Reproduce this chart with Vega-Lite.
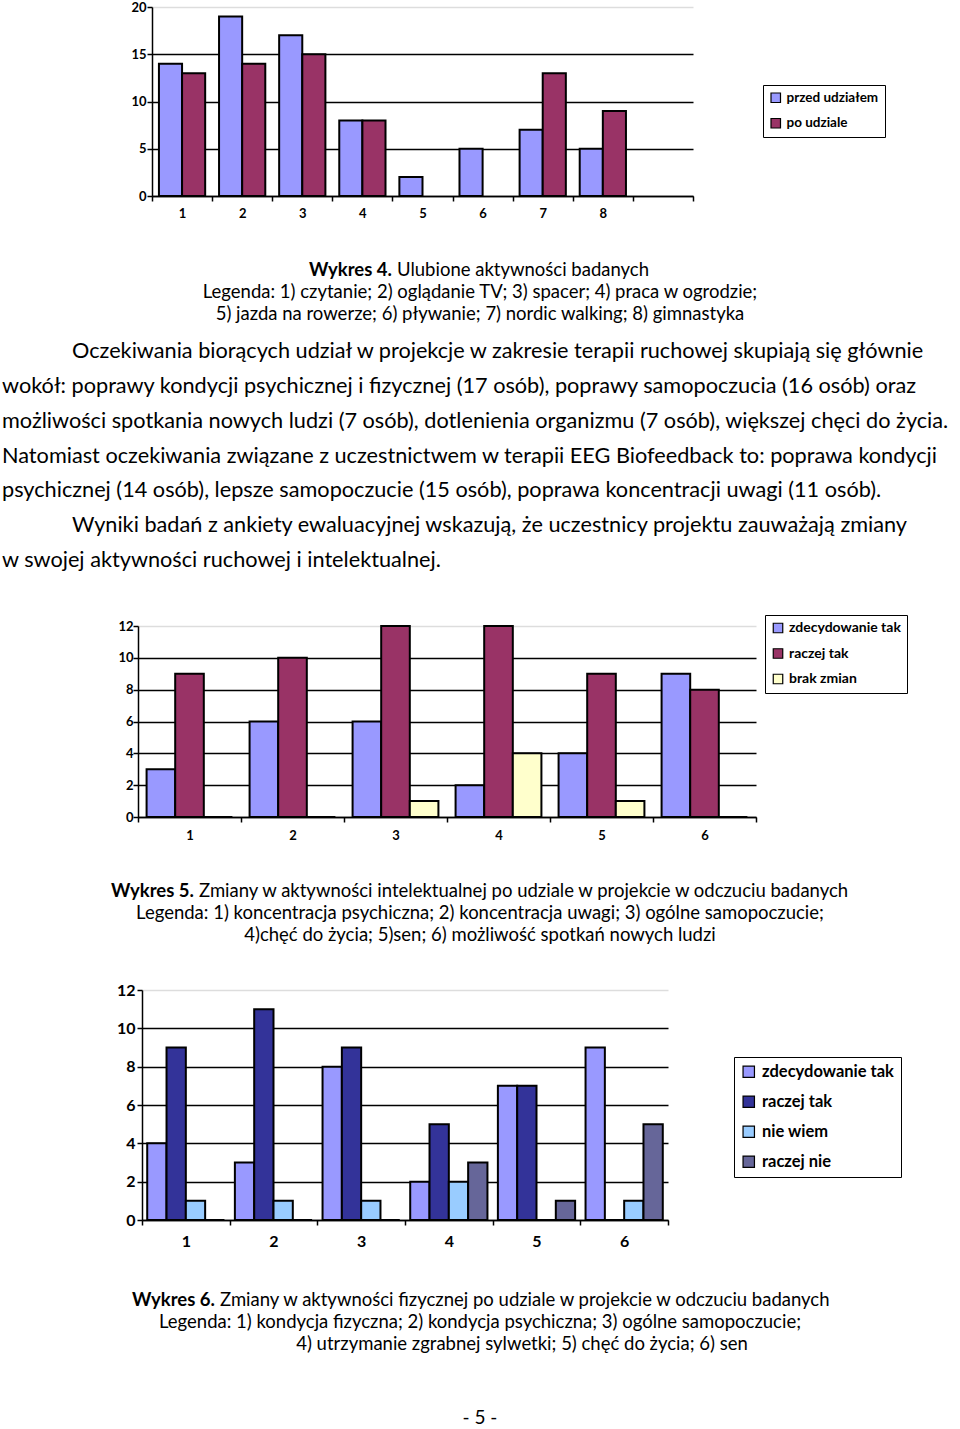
{
  "$schema": "https://vega.github.io/schema/vega-lite/v6.json",
  "width": 960,
  "height": 1429,
  "autosize": {"type": "none"},
  "padding": 0,
  "background": "white",
  "config": {
    "view": {"stroke": null},
    "font": "Lato",
    "text": {"font": "Lato", "color": "black"},
    "axis": {"labelFont": "Lato", "labelColor": "black", "labelFontWeight": "bold", "domainColor": "black", "tickColor": "black", "title": null}
  },
  "datasets": {
    "texts": [
      {"block": "cap4", "line": 1, "part": "lead", "text": "Wykres 4."},
      {"block": "cap4", "line": 1, "part": "rest", "text": "Ulubione aktywności badanych"},
      {"block": "cap4", "line": 2, "part": "full", "text": "Legenda: 1) czytanie; 2) oglądanie TV; 3) spacer; 4) praca w ogrodzie;"},
      {"block": "cap4", "line": 3, "part": "full", "text": "5) jazda na rowerze; 6) pływanie; 7) nordic walking; 8) gimnastyka"},
      {"block": "para", "line": 1, "indent": "yes", "text": "Oczekiwania biorących udział w projekcje w zakresie terapii ruchowej skupiają się głównie"},
      {"block": "para", "line": 2, "indent": "no", "text": "wokół: poprawy kondycji psychicznej i fizycznej (17 osób), poprawy samopoczucia (16 osób) oraz"},
      {"block": "para", "line": 3, "indent": "no", "text": "możliwości spotkania nowych ludzi (7 osób), dotlenienia organizmu (7 osób), większej chęci do życia."},
      {"block": "para", "line": 4, "indent": "no", "text": "Natomiast oczekiwania związane z uczestnictwem w terapii EEG Biofeedback to: poprawa kondycji"},
      {"block": "para", "line": 5, "indent": "no", "text": "psychicznej (14 osób), lepsze samopoczucie (15 osób), poprawa koncentracji uwagi (11 osób)."},
      {"block": "para", "line": 6, "indent": "yes", "text": "Wyniki badań z ankiety ewaluacyjnej wskazują, że uczestnicy projektu zauważają zmiany"},
      {"block": "para", "line": 7, "indent": "no", "text": "w swojej aktywności ruchowej i intelektualnej."},
      {"block": "cap5", "line": 1, "part": "lead", "text": "Wykres 5."},
      {"block": "cap5", "line": 1, "part": "rest", "text": "Zmiany w aktywności intelektualnej po udziale w projekcie w odczuciu badanych"},
      {"block": "cap5", "line": 2, "part": "full", "text": "Legenda: 1) koncentracja psychiczna; 2) koncentracja uwagi; 3) ogólne samopoczucie;"},
      {"block": "cap5", "line": 3, "part": "full", "text": "4)chęć do życia; 5)sen; 6) możliwość spotkań nowych ludzi"},
      {"block": "cap6", "line": 1, "part": "lead", "text": "Wykres 6."},
      {"block": "cap6", "line": 1, "part": "rest", "text": "Zmiany w aktywności fizycznej po udziale w projekcie w odczuciu badanych"},
      {"block": "cap6", "line": 2, "part": "full", "text": "Legenda: 1) kondycja fizyczna; 2) kondycja psychiczna; 3) ogólne samopoczucie;"},
      {"block": "cap6", "line": 3, "part": "shifted", "text": "4) utrzymanie zgrabnej sylwetki; 5) chęć do życia; 6) sen"},
      {"block": "page", "line": 1, "part": "full", "text": "- 5 -"}
    ]
  },
  "layer": [
    {
      "data": {"values": [
        {"cat": "1", "series": "przed udziałem", "value": 14},
        {"cat": "2", "series": "przed udziałem", "value": 19},
        {"cat": "3", "series": "przed udziałem", "value": 17},
        {"cat": "4", "series": "przed udziałem", "value": 8},
        {"cat": "5", "series": "przed udziałem", "value": 2},
        {"cat": "6", "series": "przed udziałem", "value": 5},
        {"cat": "7", "series": "przed udziałem", "value": 7},
        {"cat": "8", "series": "przed udziałem", "value": 5},
        {"cat": "1", "series": "po udziale", "value": 13},
        {"cat": "2", "series": "po udziale", "value": 14},
        {"cat": "3", "series": "po udziale", "value": 15},
        {"cat": "4", "series": "po udziale", "value": 8},
        {"cat": "7", "series": "po udziale", "value": 13},
        {"cat": "8", "series": "po udziale", "value": 9}
      ]},
      "mark": {"type": "bar", "stroke": "black", "strokeWidth": 2},
      "encoding": {
        "x": {"field": "cat", "type": "nominal",
          "scale": {"domain": ["1","2","3","4","5","6","7","8","9"], "range": [152, 693], "paddingInner": 0, "paddingOuter": 0},
          "axis": {"orient": "bottom", "offset": -1233, "tickBand": "extent", "labelAngle": 0, "labelFontSize": 13, "labelPadding": 6, "tickSize": 5, "domainWidth": 1.5, "tickWidth": 1.5, "labelExpr": "datum.value === '9' ? '' : datum.label"}},
        "xOffset": {"field": "series", "type": "nominal", "scale": {"domain": ["przed udziałem", "po udziale"], "paddingInner": 0, "paddingOuter": 0.3}},
        "y": {"field": "value", "type": "quantitative",
          "scale": {"domain": [0, 20], "range": [196, 7]},
          "axis": {"orient": "left", "offset": -152, "values": [0, 5, 10, 15, 20], "grid": true, "gridWidth": 1.5,
            "gridColor": {"condition": {"test": "datum.value === 20", "value": "#dddddd"}, "value": "black"},
            "labelFontSize": 13, "labelPadding": 1, "tickSize": 5, "domainWidth": 1.5, "tickWidth": 1.5}},
        "color": {"field": "series", "type": "nominal",
          "scale": {"domain": ["przed udziałem", "po udziale"], "range": ["#9999FF", "#993366"]},
          "legend": {"orient": "none", "legendX": 763, "legendY": 85, "title": null, "strokeColor": "black", "fillColor": "white", "padding": 6, "symbolType": "square", "symbolSize": 90, "symbolStrokeColor": "black", "symbolStrokeWidth": 1.2, "labelFont": "Lato", "labelFontWeight": "bold", "labelFontSize": 13.5, "labelColor": "black", "rowPadding": 10.5, "labelOffset": 4}}
      }
    },
    {
      "data": {"values": [
        {"cat": "1", "series": "zdecydowanie tak", "value": 3},
        {"cat": "2", "series": "zdecydowanie tak", "value": 6},
        {"cat": "3", "series": "zdecydowanie tak", "value": 6},
        {"cat": "4", "series": "zdecydowanie tak", "value": 2},
        {"cat": "5", "series": "zdecydowanie tak", "value": 4},
        {"cat": "6", "series": "zdecydowanie tak", "value": 9},
        {"cat": "1", "series": "raczej tak", "value": 9},
        {"cat": "2", "series": "raczej tak", "value": 10},
        {"cat": "3", "series": "raczej tak", "value": 12},
        {"cat": "4", "series": "raczej tak", "value": 12},
        {"cat": "5", "series": "raczej tak", "value": 9},
        {"cat": "6", "series": "raczej tak", "value": 8},
        {"cat": "1", "series": "brak zmian", "value": 0},
        {"cat": "2", "series": "brak zmian", "value": 0},
        {"cat": "3", "series": "brak zmian", "value": 1},
        {"cat": "4", "series": "brak zmian", "value": 4},
        {"cat": "5", "series": "brak zmian", "value": 1},
        {"cat": "6", "series": "brak zmian", "value": 0}
      ]},
      "mark": {"type": "bar", "stroke": "black", "strokeWidth": 2},
      "encoding": {
        "x": {"field": "cat", "type": "nominal",
          "scale": {"domain": ["1","2","3","4","5","6"], "range": [138, 756], "paddingInner": 0, "paddingOuter": 0},
          "axis": {"orient": "bottom", "offset": -612, "tickBand": "extent", "labelAngle": 0, "labelFontSize": 13, "labelPadding": 7, "tickSize": 5, "domainWidth": 1.5, "tickWidth": 1.5}},
        "xOffset": {"field": "series", "type": "nominal", "scale": {"domain": ["zdecydowanie tak", "raczej tak", "brak zmian"], "paddingInner": 0, "paddingOuter": 0.3}},
        "y": {"field": "value", "type": "quantitative",
          "scale": {"domain": [0, 12], "range": [817, 626]},
          "axis": {"orient": "left", "offset": -138, "values": [0, 2, 4, 6, 8, 10, 12], "grid": true, "gridWidth": 1.5,
            "gridColor": {"condition": {"test": "datum.value === 12", "value": "#dddddd"}, "value": "black"},
            "labelFontSize": 13, "labelPadding": 0, "tickSize": 5, "domainWidth": 1.5, "tickWidth": 1.5}},
        "color": {"field": "series", "type": "nominal",
          "scale": {"domain": ["zdecydowanie tak", "raczej tak", "brak zmian"], "range": ["#9999FF", "#993366", "#FFFFCC"]},
          "legend": {"orient": "none", "legendX": 765, "legendY": 615, "title": null, "strokeColor": "black", "fillColor": "white", "padding": 6, "symbolType": "square", "symbolSize": 90, "symbolStrokeColor": "black", "symbolStrokeWidth": 1.2, "labelFont": "Lato", "labelFontWeight": "bold", "labelFontSize": 14, "labelColor": "black", "rowPadding": 9.5, "labelOffset": 4}}
      }
    },
    {
      "data": {"values": [
        {"cat": "1", "series": "zdecydowanie tak", "value": 4},
        {"cat": "2", "series": "zdecydowanie tak", "value": 3},
        {"cat": "3", "series": "zdecydowanie tak", "value": 8},
        {"cat": "4", "series": "zdecydowanie tak", "value": 2},
        {"cat": "5", "series": "zdecydowanie tak", "value": 7},
        {"cat": "6", "series": "zdecydowanie tak", "value": 9},
        {"cat": "1", "series": "raczej tak", "value": 9},
        {"cat": "2", "series": "raczej tak", "value": 11},
        {"cat": "3", "series": "raczej tak", "value": 9},
        {"cat": "4", "series": "raczej tak", "value": 5},
        {"cat": "5", "series": "raczej tak", "value": 7},
        {"cat": "6", "series": "raczej tak", "value": 0},
        {"cat": "1", "series": "nie wiem", "value": 1},
        {"cat": "2", "series": "nie wiem", "value": 1},
        {"cat": "3", "series": "nie wiem", "value": 1},
        {"cat": "4", "series": "nie wiem", "value": 2},
        {"cat": "5", "series": "nie wiem", "value": 0},
        {"cat": "6", "series": "nie wiem", "value": 1},
        {"cat": "1", "series": "raczej nie", "value": 0},
        {"cat": "2", "series": "raczej nie", "value": 0},
        {"cat": "3", "series": "raczej nie", "value": 0},
        {"cat": "4", "series": "raczej nie", "value": 3},
        {"cat": "5", "series": "raczej nie", "value": 1},
        {"cat": "6", "series": "raczej nie", "value": 5}
      ]},
      "mark": {"type": "bar", "stroke": "black", "strokeWidth": 2},
      "encoding": {
        "x": {"field": "cat", "type": "nominal",
          "scale": {"domain": ["1","2","3","4","5","6"], "range": [142, 668], "paddingInner": 0, "paddingOuter": 0},
          "axis": {"orient": "bottom", "offset": -209, "tickBand": "extent", "labelAngle": 0, "labelFontSize": 16, "labelPadding": 8, "tickSize": 5, "domainWidth": 1.5, "tickWidth": 1.5}},
        "xOffset": {"field": "series", "type": "nominal", "scale": {"domain": ["zdecydowanie tak", "raczej tak", "nie wiem", "raczej nie"], "paddingInner": 0, "paddingOuter": 0.27}},
        "y": {"field": "value", "type": "quantitative",
          "scale": {"domain": [0, 12], "range": [1220, 990]},
          "axis": {"orient": "left", "offset": -142, "values": [0, 2, 4, 6, 8, 10, 12], "grid": true, "gridWidth": 1.5,
            "gridColor": {"condition": {"test": "datum.value === 12", "value": "#dddddd"}, "value": "black"},
            "labelFontSize": 16, "labelPadding": 2, "tickSize": 5, "domainWidth": 1.5, "tickWidth": 1.5}},
        "color": {"field": "series", "type": "nominal",
          "scale": {"domain": ["zdecydowanie tak", "raczej tak", "nie wiem", "raczej nie"], "range": ["#9999FF", "#333399", "#99CCFF", "#666699"]},
          "legend": {"orient": "none", "legendX": 734, "legendY": 1057, "title": null, "strokeColor": "black", "fillColor": "white", "padding": 6.5, "symbolType": "square", "symbolSize": 130, "symbolStrokeColor": "black", "symbolStrokeWidth": 1.2, "labelFont": "Lato", "labelFontWeight": "bold", "labelFontSize": 16.5, "labelColor": "black", "rowPadding": 13, "labelOffset": 5}}
      }
    },
    {
      "data": {"name": "texts"},
      "transform": [{"filter": "datum.block === 'para'"}],
      "mark": {"type": "text", "align": "left", "baseline": "middle", "fontSize": 21.7, "font": "Lato"},
      "encoding": {
        "x": {"field": "indent", "type": "nominal", "scale": {"type": "point", "domain": ["no", "yes"], "range": [2, 72], "padding": 0}, "axis": null},
        "y": {"field": "line", "type": "quantitative", "scale": {"domain": [1, 7], "range": [351, 560]}, "axis": null},
        "text": {"field": "text"}
      }
    },
    {
      "data": {"name": "texts"},
      "transform": [{"filter": "datum.block === 'cap4' && datum.part === 'full'"}],
      "mark": {"type": "text", "align": "center", "baseline": "middle", "fontSize": 18.5, "font": "Lato"},
      "encoding": {
        "y": {"field": "line", "type": "quantitative", "scale": {"domain": [1, 3], "range": [270, 314]}, "axis": null},
        "text": {"field": "text"}
      }
    },
    {
      "data": {"name": "texts"},
      "transform": [{"filter": "datum.block === 'cap4' && datum.part !== 'full'"}],
      "mark": {"type": "text", "baseline": "middle", "fontSize": 18.5, "font": "Lato",
        "align": {"expr": "datum.part === 'lead' ? 'right' : 'left'"},
        "fontWeight": {"expr": "datum.part === 'lead' ? 'bold' : 'normal'"}},
      "encoding": {
        "x": {"field": "part", "type": "nominal", "scale": {"type": "point", "domain": ["lead", "rest"], "range": [392, 397], "padding": 0}, "axis": null},
        "y": {"field": "line", "type": "quantitative", "scale": {"domain": [1, 3], "range": [270, 314]}, "axis": null},
        "text": {"field": "text"}
      }
    },
    {
      "data": {"name": "texts"},
      "transform": [{"filter": "datum.block === 'cap5' && datum.part === 'full'"}],
      "mark": {"type": "text", "align": "center", "baseline": "middle", "fontSize": 18.5, "font": "Lato"},
      "encoding": {
        "y": {"field": "line", "type": "quantitative", "scale": {"domain": [1, 3], "range": [891, 935]}, "axis": null},
        "text": {"field": "text"}
      }
    },
    {
      "data": {"name": "texts"},
      "transform": [{"filter": "datum.block === 'cap5' && datum.part !== 'full'"}],
      "mark": {"type": "text", "baseline": "middle", "fontSize": 18.5, "font": "Lato",
        "align": {"expr": "datum.part === 'lead' ? 'right' : 'left'"},
        "fontWeight": {"expr": "datum.part === 'lead' ? 'bold' : 'normal'"}},
      "encoding": {
        "x": {"field": "part", "type": "nominal", "scale": {"type": "point", "domain": ["lead", "rest"], "range": [194, 199], "padding": 0}, "axis": null},
        "y": {"field": "line", "type": "quantitative", "scale": {"domain": [1, 3], "range": [891, 935]}, "axis": null},
        "text": {"field": "text"}
      }
    },
    {
      "data": {"name": "texts"},
      "transform": [{"filter": "datum.block === 'cap6' && (datum.part === 'full' || datum.part === 'shifted')"}],
      "mark": {"type": "text", "align": "center", "baseline": "middle", "fontSize": 18.5, "font": "Lato"},
      "encoding": {
        "x": {"field": "part", "type": "nominal", "scale": {"type": "point", "domain": ["full", "shifted"], "range": [480, 522], "padding": 0}, "axis": null},
        "y": {"field": "line", "type": "quantitative", "scale": {"domain": [1, 3], "range": [1300, 1344]}, "axis": null},
        "text": {"field": "text"}
      }
    },
    {
      "data": {"name": "texts"},
      "transform": [{"filter": "datum.block === 'cap6' && (datum.part === 'lead' || datum.part === 'rest')"}],
      "mark": {"type": "text", "baseline": "middle", "fontSize": 18.5, "font": "Lato",
        "align": {"expr": "datum.part === 'lead' ? 'right' : 'left'"},
        "fontWeight": {"expr": "datum.part === 'lead' ? 'bold' : 'normal'"}},
      "encoding": {
        "x": {"field": "part", "type": "nominal", "scale": {"type": "point", "domain": ["lead", "rest"], "range": [215, 220], "padding": 0}, "axis": null},
        "y": {"field": "line", "type": "quantitative", "scale": {"domain": [1, 3], "range": [1300, 1344]}, "axis": null},
        "text": {"field": "text"}
      }
    },
    {
      "data": {"name": "texts"},
      "transform": [{"filter": "datum.block === 'page'"}],
      "mark": {"type": "text", "align": "center", "baseline": "middle", "fontSize": 19, "font": "Lato"},
      "encoding": {
        "y": {"field": "line", "type": "ordinal", "scale": {"type": "point", "domain": [1], "range": [1418, 1418], "padding": 0}, "axis": null},
        "text": {"field": "text"}
      }
    }
  ],
  "resolve": {
    "scale": {"x": "independent", "y": "independent", "xOffset": "independent", "color": "independent"},
    "axis": {"x": "independent", "y": "independent"},
    "legend": {"color": "independent"}
  }
}
